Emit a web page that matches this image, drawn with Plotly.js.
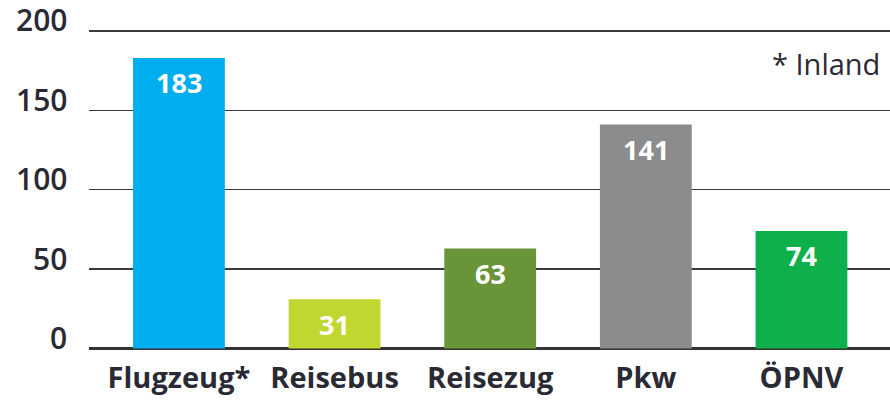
<!DOCTYPE html>
<html>
<head>
<meta charset="utf-8">
<script src="https://cdn.plot.ly/plotly-3.0.1.min.js"></script>
<style>html,body{margin:0;padding:0;background:#fff;}#chart{width:890px;height:401px;}</style>
</head>
<body>
<div id="chart"></div>
<script>
var categories = ["Flugzeug*", "Reisebus", "Reisezug", "Pkw", "ÖPNV"];
var values = [183, 31, 63, 141, 74];
var barColors = ["#00AEEF", "#BFD730", "#6A9438", "#8A8B8C", "#0DB04B"];
var yTicks = [0, 50, 100, 150, 200];
var yTickLabels = ["0", "50", "100", "150", "200"];
var note = "* Inland";

var FONT = "'Open Sans', 'DejaVu Sans', sans-serif";
var TXT = "#2a2a35";

var trace = {
  type: "bar",
  x: categories,
  y: values,
  width: 0.59,
  marker: {color: barColors, line: {width: 0}},
  hoverinfo: "none"
};

var annotations = categories.map(function (c, i) {
  return {
    x: c, y: values[i], xref: "x", yref: "y",
    text: "<b>" + values[i] + "</b>",
    showarrow: false, yanchor: "middle", yshift: -25,
    font: {family: FONT, size: 27, color: "#ffffff"}
  };
});
// y-axis tick labels, drawn just above their grid lines as in the original
yTicks.forEach(function (v, i) {
  annotations.push({
    xref: "paper", yref: "y", x: 0, y: v,
    xanchor: "right", yanchor: "middle",
    xshift: -20, yshift: 11,
    text: yTickLabels[i], showarrow: false,
    font: {family: FONT, size: 30, color: TXT, weight: 600}
  });
});
annotations.push({
  xref: "paper", yref: "paper", x: 1, y: 1,
  xanchor: "right", yanchor: "middle",
  text: note, showarrow: false, xshift: -8, yshift: -40,
  font: {family: FONT, size: 29, color: TXT}
});

var layout = {
  width: 890, height: 401,
  margin: {l: 89, r: 0, t: 23, b: 51, pad: 0},
  paper_bgcolor: "#ffffff", plot_bgcolor: "#ffffff",
  showlegend: false,
  xaxis: {
    type: "category",
    range: [-0.578, 4.569],
    showgrid: false, zeroline: false, showline: false,
    ticks: "",
    ticklabelstandoff: 8,
    tickfont: {family: FONT, size: 29, color: TXT, weight: 700},
    fixedrange: true
  },
  yaxis: {
    range: [-1, 205],
    tickvals: yTicks,
    showticklabels: false,
    showgrid: true, gridcolor: "#3a3a3a", gridwidth: 1.5,
    zeroline: true, zerolinecolor: "#333333", zerolinewidth: 2.5,
    showline: false, ticks: "",
    fixedrange: true
  },
  annotations: annotations
};

Plotly.newPlot("chart", [trace], layout, {displayModeBar: false, staticPlot: true});
</script>
</body>
</html>
